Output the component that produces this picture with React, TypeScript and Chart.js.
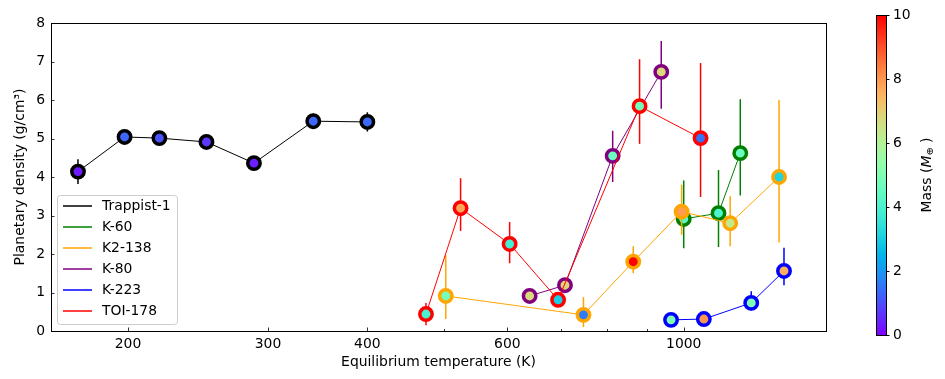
import { useEffect, useRef } from "react";
import { Chart, registerables } from "chart.js";

Chart.register(...registerables);

// ---------- data ----------
const systemNames = ["Trappist-1", "K-60", "K2-138", "K-80", "K-223", "TOI-178"];
const systemColors = ["#000000", "#008000", "#ffa500", "#800080", "#0000ff", "#ff0000"];

const trappistTemp = [173, 198, 219, 251, 288, 342, 400];
const trappistDensity = [4.14, 5.04, 5.01, 4.91, 4.36, 5.45, 5.43];
const trappistErrUp = [0.32, 0.15, 0.15, 0.15, 0.15, 0.2, 0.25];
const trappistErrDown = [0.32, 0.15, 0.15, 0.15, 0.15, 0.2, 0.25];
const trappistMass = [0.33, 1.32, 1.04, 0.69, 0.39, 1.31, 1.37];

const k60Temp = [1000, 1106, 1178];
const k60Density = [2.91, 3.06, 4.62];
const k60ErrUp = [1.0, 1.12, 1.4];
const k60ErrDown = [0.76, 0.88, 1.1];
const k60Mass = [4.2, 4.0, 4.6];

const k2138Temp = [502, 748, 864, 994, 1144, 1318];
const k2138Density = [0.91, 0.42, 1.8, 3.1, 2.8, 4.0];
const k2138ErrUp = [1.06, 0.46, 0.4, 0.7, 0.7, 2.0];
const k2138ErrDown = [0.6, 0.32, 0.3, 0.6, 0.6, 1.7];
const k2138Mass = [4.8, 1.6, 13.0, 7.9, 6.3, 3.1];

const k80Temp = [640, 709, 814, 937];
const k80Density = [0.91, 1.19, 4.55, 6.73];
const k80ErrUp = [0.15, 0.15, 0.65, 0.8];
const k80ErrDown = [0.15, 0.15, 0.68, 0.96];
const k80Mass = [6.75, 6.9, 4.6, 6.74];

const k223Temp = [964, 1060, 1216, 1337];
const k223Density = [0.29, 0.31, 0.73, 1.56];
const k223ErrUp = [0.1, 0.1, 0.3, 0.6];
const k223ErrDown = [0.1, 0.1, 0.2, 0.37];
const k223Mass = [5.0, 8.0, 5.0, 7.6];

const toi178Temp = [474, 524, 604, 695, 880, 1050];
const toi178Density = [0.44, 3.19, 2.26, 0.81, 5.84, 5.01];
const toi178ErrUp = [0.29, 0.78, 0.57, 0.15, 1.22, 1.95];
const toi178ErrDown = [0.29, 0.59, 0.5, 0.15, 0.98, 1.53];
const toi178Mass = [3.94, 7.72, 3.86, 3.01, 4.77, 1.5];

const xTickValues = [200, 300, 400, 500, 600, 700, 800, 900, 1000];
const xTickLabels = ["200", "300", "400", "", "600", "", "", "", "1000"];
const yTickValues = [0, 1, 2, 3, 4, 5, 6, 7, 8];
const colorbarTicks = [0, 2, 4, 6, 8, 10];
const massMin = 0;
const massMax = 10;

const xLabel = "Equilibrium temperature (K)";
const yLabel = "Planetary density (g/cm³)";

// ---------- helpers ----------
function rainbow(m: number): string {
  const x = Math.min(1, Math.max(0, (m - massMin) / (massMax - massMin)));
  const r = Math.min(1, Math.abs(2 * x - 0.5));
  const g = Math.min(1, Math.max(0, Math.sin(Math.PI * x)));
  const b = Math.min(1, Math.max(0, Math.cos((Math.PI / 2) * x)));
  return `rgb(${Math.round(r * 255)},${Math.round(g * 255)},${Math.round(b * 255)})`;
}

const FONT = "'DejaVu Sans', sans-serif";
const FS = 13.9;

const systems = [
  { t: trappistTemp, d: trappistDensity, up: trappistErrUp, dn: trappistErrDown, m: trappistMass },
  { t: k60Temp, d: k60Density, up: k60ErrUp, dn: k60ErrDown, m: k60Mass },
  { t: k2138Temp, d: k2138Density, up: k2138ErrUp, dn: k2138ErrDown, m: k2138Mass },
  { t: k80Temp, d: k80Density, up: k80ErrUp, dn: k80ErrDown, m: k80Mass },
  { t: k223Temp, d: k223Density, up: k223ErrUp, dn: k223ErrDown, m: k223Mass },
  { t: toi178Temp, d: toi178Density, up: toi178ErrUp, dn: toi178ErrDown, m: toi178Mass },
];

const errorBarPlugin = {
  id: "errorBars",
  beforeDatasetDraw(chart: any, args: any) {
    const ds = chart.data.datasets[args.index];
    const xs = chart.scales.x;
    const ys = chart.scales.y;
    const ctx = chart.ctx;
    ctx.save();
    ctx.strokeStyle = ds.borderColor;
    ctx.lineWidth = 1.5;
    ds.data.forEach((p: any, i: number) => {
      const px = xs.getPixelForValue(p.x);
      ctx.beginPath();
      ctx.moveTo(px, ys.getPixelForValue(p.y + ds.errUp[i]));
      ctx.lineTo(px, ys.getPixelForValue(p.y - ds.errDown[i]));
      ctx.stroke();
    });
    ctx.restore();
  },
};

const framePlugin = {
  id: "frame",
  afterDatasetsDraw(chart: any) {
    const { ctx, chartArea: a } = chart;
    const xs = chart.scales.x;
    const ys = chart.scales.y;
    ctx.save();
    ctx.strokeStyle = "#000";
    ctx.lineWidth = 0.8;
    // ticks (inward)
    xTickValues.forEach((v, i) => {
      const px = Math.round(xs.getPixelForValue(v)) + 0.5;
      const len = xTickLabels[i] ? 3.5 : 2;
      ctx.beginPath();
      ctx.moveTo(px, a.bottom);
      ctx.lineTo(px, a.bottom - len);
      ctx.stroke();
    });
    yTickValues.forEach((v) => {
      const py = Math.round(ys.getPixelForValue(v)) + 0.5;
      ctx.beginPath();
      ctx.moveTo(a.left, py);
      ctx.lineTo(a.left + 3.5, py);
      ctx.stroke();
    });
    ctx.lineWidth = 1;
    ctx.strokeRect(Math.round(a.left) + 0.5, Math.round(a.top) + 0.5, Math.round(a.right - a.left), Math.round(a.bottom - a.top));
    ctx.restore();
  },
  afterDraw(chart: any) {
    const ctx = chart.ctx;
    const a = chart.chartArea;
    ctx.save();
    // legend
    const lx = a.left + 6, ly = a.top + 172, lw = 120, lh = 129;
    ctx.beginPath();
    (ctx as any).roundRect(lx + 0.5, ly + 0.5, lw, lh, 3);
    ctx.fillStyle = "rgba(255,255,255,0.8)";
    ctx.fill();
    ctx.strokeStyle = "#cccccc";
    ctx.lineWidth = 1;
    ctx.stroke();
    ctx.font = `${FS}px ${FONT}`;
    ctx.textBaseline = "middle";
    ctx.textAlign = "left";
    systemNames.forEach((name, i) => {
      const y = ly + 11 + i * 21;
      ctx.strokeStyle = systemColors[i];
      ctx.lineWidth = 1.5;
      ctx.beginPath();
      ctx.moveTo(lx + 6, y);
      ctx.lineTo(lx + 35, y);
      ctx.stroke();
      ctx.fillStyle = "#000";
      ctx.fillText(name, lx + 45, y);
    });

    // colorbar
    const cx = 876, cw = 10, ctop = 15, cbot = 335;
    const grad = ctx.createLinearGradient(0, cbot, 0, ctop);
    for (let k = 0; k <= 50; k++) {
      grad.addColorStop(k / 50, rainbow(massMin + (k / 50) * (massMax - massMin)));
    }
    ctx.fillStyle = grad;
    ctx.fillRect(cx, ctop, cw, cbot - ctop);
    ctx.strokeStyle = "#000";
    ctx.lineWidth = 1;
    ctx.strokeRect(cx + 0.5, ctop + 0.5, cw, cbot - ctop);
    ctx.fillStyle = "#000";
    ctx.textAlign = "left";
    ctx.textBaseline = "middle";
    colorbarTicks.forEach((v) => {
      const y = Math.round(cbot - ((v - massMin) / (massMax - massMin)) * (cbot - ctop)) + 0.5;
      ctx.beginPath();
      ctx.moveTo(cx + cw, y);
      ctx.lineTo(cx + cw + 3.5, y);
      ctx.stroke();
      ctx.fillText(String(v), cx + cw + 7, y);
    });
    // colorbar label, rotated
    ctx.translate(927, 175);
    ctx.rotate(-Math.PI / 2);
    const parts = [
      { t: "Mass (", f: `${FS}px ${FONT}`, dy: 0 },
      { t: "M", f: `italic ${FS}px ${FONT}`, dy: 0 },
      { t: "⊕", f: `${FS * 0.7}px ${FONT}`, dy: 3 },
      { t: " )", f: `${FS}px ${FONT}`, dy: 0 },
    ];
    let total = 0;
    parts.forEach((p) => {
      ctx.font = p.f;
      total += ctx.measureText(p.t).width;
    });
    let xpos = -total / 2;
    ctx.textAlign = "left";
    ctx.textBaseline = "middle";
    parts.forEach((p) => {
      ctx.font = p.f;
      ctx.fillText(p.t, xpos, p.dy);
      xpos += ctx.measureText(p.t).width;
    });
    ctx.restore();
  },
};

export default function App() {
  const ref = useRef<HTMLCanvasElement | null>(null);
  useEffect(() => {
    if (!ref.current) return;
    Chart.defaults.font.family = FONT;
    Chart.defaults.font.size = FS;
    Chart.defaults.color = "#000";
    const datasets = systems.map((s, i) => ({
      label: systemNames[i],
      data: s.t.map((t, j) => ({ x: t, y: s.d[j] })),
      errUp: s.up,
      errDown: s.dn,
      borderColor: systemColors[i],
      borderWidth: 1,
      pointBackgroundColor: s.m.map(rainbow),
      pointBorderColor: systemColors[i],
      pointRadius: 6.2,
      pointBorderWidth: 3.5,
      pointStyle: "circle",
      tension: 0,
      fill: false,
      order: systems.length - i,
    }));
    const chart = new Chart(ref.current, {
      type: "line",
      data: { datasets: datasets as any },
      plugins: [errorBarPlugin, framePlugin],
      options: {
        animation: false,
        responsive: true,
        maintainAspectRatio: false,
        events: [],
        layout: { padding: { top: 23, right: 119, left: 0, bottom: 0 } },
        plugins: { legend: { display: false }, tooltip: { enabled: false } },
        scales: {
          x: {
            type: "logarithmic",
            min: 160,
            max: 1510,
            grid: { display: false, drawTicks: false },
            border: { display: false },
            afterBuildTicks: (scale: any) => {
              scale.ticks = xTickValues.map((v) => ({ value: v }));
            },
            afterFit: (scale: any) => {
              scale.height = 48;
            },
            ticks: {
              autoSkip: false,
              maxRotation: 0,
              padding: 5,
              callback: (v: any) => {
                const idx = xTickValues.indexOf(Number(v));
                return idx >= 0 ? xTickLabels[idx] : "";
              },
            },
            title: { display: true, text: xLabel, padding: { top: 0, bottom: 8 } },
          },
          y: {
            type: "linear",
            min: 0,
            max: 8,
            grid: { display: false, drawTicks: false },
            border: { display: false },
            afterBuildTicks: (scale: any) => {
              scale.ticks = yTickValues.map((v) => ({ value: v }));
            },
            afterFit: (scale: any) => {
              scale.width = 51;
            },
            ticks: { padding: 6, callback: (v: any) => String(v) },
            title: { display: true, text: yLabel, padding: { top: 12, bottom: 0 } },
          },
        },
      },
    });
    return () => chart.destroy();
  }, []);
  return (
    <div style={{ position: "fixed", left: 0, top: 0, width: 945, height: 379, background: "#fff" }}>
      <canvas ref={ref} />
    </div>
  );
}
